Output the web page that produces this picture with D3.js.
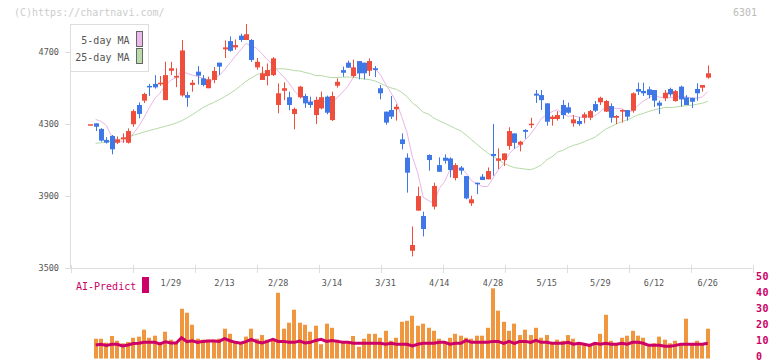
<!DOCTYPE html>
<html>
<head>
<meta charset="utf-8">
<script src="https://cdn.jsdelivr.net/npm/d3@7"></script>
<style>
body { margin: 0; background: #fff; }
text { font-family: "DejaVu Sans Mono", "Liberation Mono", monospace; }
</style>
</head>
<body>
<div id="chart"></div>
<script>
// trading days shown (2025)
var dates = ["1/7","1/8","1/9","1/10","1/14","1/15","1/16","1/17","1/20","1/21","1/22","1/23","1/24","1/27","1/28","1/29","1/30","1/31",
    "2/3","2/4","2/5","2/6","2/7","2/10","2/12","2/13","2/14","2/17","2/18","2/19","2/20","2/21","2/25","2/26","2/27","2/28",
    "3/3","3/4","3/5","3/6","3/7","3/10","3/11","3/12","3/13","3/14","3/17","3/18","3/19","3/21","3/24","3/25","3/26","3/27","3/28","3/31",
    "4/1","4/2","4/3","4/4","4/7","4/8","4/9","4/10","4/11","4/14","4/15","4/16","4/17","4/18","4/21","4/22","4/23","4/24","4/25","4/28","4/30",
    "5/1","5/2","5/7","5/8","5/9","5/12","5/13","5/14","5/15","5/16","5/19","5/20","5/21","5/22","5/23","5/26","5/27","5/28","5/29","5/30",
    "6/2","6/3","6/4","6/5","6/6","6/9","6/10","6/11","6/12","6/13","6/16","6/17","6/18","6/19","6/20","6/23","6/24","6/25","6/26"];

var opens = [4297,4302,4271,4210,4232,4194,4213,4194,4297,4404,4428,4510,4521,4519,4431,4594,4556,4457,4459,4515,
    4589,4552,4497,4543,4639,4713,4759,4724,4789,4765,4765,4613,4543,4565,4570,4404,4483,4447,4354,4447,
    4454,4422,4348,4385,4450,4320,4511,4598,4639,4565,4648,4639,4594,4608,4497,4367,4376,4380,4213,4111,
    3594,3817,3787,4126,3839,4070,4111,4107,3998,4056,4009,3858,3972,4006,3991,4132,4094,4098,4176,4246,
    4183,4265,4298,4467,4459,4413,4326,4326,4404,4391,4302,4315,4333,4333,4409,4419,4367,4398,4333,4367,
    4376,4372,4493,4482,4491,4487,4417,4441,4493,4426,4506,4446,4444,4493,4500,4556];
var highs = [4297,4302,4275,4225,4237,4229,4246,4274,4380,4418,4472,4521,4570,4565,4644,4644,4608,4765,4477,4543,
    4620,4570,4561,4615,4639,4763,4785,4768,4800,4854,4770,4665,4617,4635,4670,4524,4530,4478,4390,4510,
    4466,4450,4450,4478,4456,4478,4552,4617,4650,4656,4648,4639,4663,4620,4515,4367,4454,4408,4246,4135,
    3729,3950,3811,4130,3972,4113,4130,4113,4080,4065,4009,3900,3972,4020,4057,4298,4163,4135,4280,4246,
    4205,4270,4333,4487,4487,4413,4348,4369,4432,4417,4348,4337,4363,4376,4426,4450,4432,4413,4348,4380,
    4376,4474,4528,4528,4506,4487,4428,4487,4500,4487,4511,4459,4444,4524,4515,4624];
var lows = [4297,4259,4200,4190,4130,4187,4194,4190,4283,4330,4415,4454,4495,4510,4431,4570,4503,4450,4394,4478,
    4518,4507,4497,4525,4570,4665,4700,4711,4755,4765,4643,4600,4543,4513,4565,4358,4431,4374,4269,4440,
    4388,4388,4298,4380,4352,4315,4500,4561,4611,4556,4546,4546,4565,4559,4435,4294,4326,4317,4157,3917,
    3563,3817,3674,4039,3824,4033,4078,4002,3985,4017,3880,3843,3909,3987,3991,4011,4048,4065,4155,4161,
    4146,4217,4276,4415,4376,4289,4289,4317,4326,4355,4283,4289,4302,4320,4365,4404,4365,4306,4298,4306,
    4317,4361,4459,4454,4441,4393,4354,4426,4450,4422,4395,4404,4387,4428,4478,4550];
var closes = [4297,4283,4206,4195,4158,4213,4224,4259,4370,4354,4465,4502,4502,4528,4570,4608,4565,4707,4444,4528,
    4567,4515,4547,4593,4617,4724,4705,4737,4765,4797,4654,4644,4580,4598,4663,4469,4497,4404,4382,4506,
    4413,4404,4432,4447,4361,4454,4533,4583,4611,4613,4580,4580,4648,4598,4469,4306,4339,4394,4187,4028,
    3626,3898,3715,4098,3954,4033,4094,4043,4070,4039,3885,3880,3965,3987,4037,4120,4107,4135,4259,4194,
    4200,4255,4300,4456,4431,4311,4339,4348,4348,4361,4324,4298,4352,4370,4372,4444,4426,4333,4343,4376,
    4339,4469,4478,4469,4459,4428,4400,4472,4463,4481,4435,4404,4422,4469,4515,4580];

var ma5 = [null,4324,4313,4290,4228,4211,4199,4210,4245,4284,4334,4390,4439,4470,4513,4542,4555,4596,4579,4570,
    4562,4552,4520,4550,4568,4599,4637,4675,4710,4746,4732,4719,4688,4655,4628,4591,4561,4526,4483,4452,
    4440,4422,4427,4440,4411,4420,4445,4476,4508,4559,4584,4593,4606,4604,4575,4520,4472,4421,4339,4251,
    4115,4027,3891,3873,3858,3940,3979,4044,4039,4056,4026,3983,3968,3951,3951,3998,4043,4077,4132,4163,
    4179,4209,4242,4281,4328,4351,4367,4377,4355,4341,4344,4336,4337,4341,4343,4367,4393,4389,4384,4384,
    4363,4372,4401,4426,4443,4461,4447,4446,4444,4449,4450,4451,4441,4442,4449,4478];
var ma25 = [null,4191,4194,4198,4203,4210,4218,4226,4236,4244,4254,4262,4270,4278,4286,4294,4304,4316,4332,4350,
    4370,4390,4405,4418,4433,4450,4467,4488,4511,4536,4554,4571,4584,4593,4605,4605,4605,4601,4595,4593,
    4585,4578,4567,4568,4561,4556,4557,4559,4559,4559,4553,4548,4545,4538,4525,4511,4499,4491,4475,4450,
    4416,4392,4364,4353,4331,4316,4303,4288,4273,4260,4237,4211,4186,4161,4138,4120,4101,4080,4067,4056,
    4052,4048,4044,4055,4071,4099,4116,4142,4152,4168,4180,4188,4200,4212,4225,4248,4270,4284,4299,4312,
    4321,4335,4349,4357,4368,4377,4383,4390,4390,4392,4397,4400,4403,4408,4414,4424];

var volume = [null,12.5,12.5,10.0,14.2,11.2,9.6,10.4,13.1,13.8,18.2,13.1,14.4,8.7,16.9,11.9,10.0,31.4,28.9,21.3,
    12.5,11.9,11.9,11.9,12.5,18.8,15.6,10.6,9.4,13.8,18.8,12.5,14.8,11.9,11.9,41.5,18.8,22.6,30.8,22.6,
    21.3,16.9,20.7,9.0,22.0,19.4,11.9,10.0,10.0,14.2,7.4,12.5,15.6,15.6,13.1,17.5,11.2,13.1,23.2,23.8,
    27.0,20.7,22.0,19.4,17.5,12.5,10.0,13.1,15.6,14.4,13.1,12.5,14.4,14.4,19.4,44.3,30.2,23.2,17.5,22.0,
    14.8,18.2,14.8,19.4,13.1,14.8,10.0,11.9,11.2,14.8,12.5,9.4,8.7,8.2,10.4,15.6,27.6,11.2,9.4,13.1,
    14.4,17.5,14.4,13.1,7.7,9.6,13.8,11.9,9.6,11.2,9.0,25.1,9.4,11.2,9.0,18.8];
var aiPredict = [null,8.5,9.0,8.3,9.0,9.0,7.9,8.5,9.4,9.6,10.2,10.2,10.2,9.2,10.6,9.8,9.8,13.1,10.6,11.2,
    10.2,10.8,11.0,11.0,10.8,12.5,11.2,10.2,9.6,10.6,12.1,10.6,9.8,10.8,12.1,10.8,10.8,10.2,10.2,11.0,
    9.8,10.2,11.4,12.1,10.8,11.4,10.8,10.2,10.2,9.6,9.6,9.6,9.6,9.6,9.6,9.0,9.6,9.0,9.0,9.0,
    7.9,9.0,9.6,9.6,9.6,10.2,10.2,9.0,9.6,9.6,11.4,10.2,10.2,10.2,10.2,10.8,10.8,9.6,10.8,9.6,
    10.8,10.8,10.2,11.4,10.2,10.2,9.6,9.6,9.6,10.2,9.0,9.6,9.0,8.3,9.6,9.0,9.6,9.0,9.0,9.6,
    9.0,10.2,10.2,9.6,8.3,8.3,8.3,7.7,7.7,8.3,9.0,9.0,9.0,9.0,9.0,9.6];

var tickLabels = ["1/29","2/13","2/28","3/14","3/31","4/14","4/28","5/15","5/29","6/12","6/26"];
var priceTicks = [3500, 3900, 4300, 4700];
var volTicks = [0, 10, 20, 30, 40, 50];

var width = 772, height = 361;
var upColor = "#f04e3c", downColor = "#3f78e6";
var gridColor = "#dddddd";

var svg = d3.select("#chart").append("svg")
    .attr("width", width)
    .attr("height", height);

var idx = d3.range(dates.length);

var x = d3.scalePoint().domain(dates).range([90.3, 707.7]);
var y = d3.scaleLinear().domain([3500, 4700]).range([267.7, 51.7]);
var yVol = d3.scaleLinear().domain([0, 50]).range([358.5, 279.3]);

// header texts
svg.append("text")
    .attr("x", 14).attr("y", 16)
    .attr("font-size", 10).attr("fill", "#cccccc")
    .text("(C)https://chartnavi.com/");

svg.append("text")
    .attr("x", 757).attr("y", 16)
    .attr("text-anchor", "end")
    .attr("font-size", 10).attr("fill", "#bbbbbb")
    .text("6301");

// axes lines
svg.append("line")
    .attr("x1", 70.5).attr("x2", 70.5)
    .attr("y1", 24.5).attr("y2", 268.5)
    .attr("stroke", gridColor);

svg.append("line")
    .attr("x1", 70).attr("x2", 752.5)
    .attr("y1", 268.5).attr("y2", 268.5)
    .attr("stroke", gridColor);

// x grid ticks, every 62px
svg.selectAll(".xtick")
    .data(d3.range(0, 12))
    .enter().append("line")
    .attr("class", "xtick")
    .attr("x1", function (k) { return Math.round(70.5 + k * 62) + 0.5; })
    .attr("x2", function (k) { return Math.round(70.5 + k * 62) + 0.5; })
    .attr("y1", 265).attr("y2", 273)
    .attr("stroke", gridColor);

// y ticks
svg.selectAll(".ytick")
    .data(priceTicks)
    .enter().append("line")
    .attr("class", "ytick")
    .attr("x1", 65).attr("x2", 70.5)
    .attr("y1", function (d) { return Math.round(y(d)) + 0.5; })
    .attr("y2", function (d) { return Math.round(y(d)) + 0.5; })
    .attr("stroke", gridColor);

svg.selectAll(".ylabel")
    .data(priceTicks)
    .enter().append("text")
    .attr("class", "ylabel")
    .attr("x", 59)
    .attr("y", function (d) { return y(d) + 3; })
    .attr("text-anchor", "end")
    .attr("font-size", 8.5)
    .attr("fill", "#555")
    .text(function (d) { return d; });

// date labels
svg.selectAll(".xlabel")
    .data(tickLabels)
    .enter().append("text")
    .attr("class", "xlabel")
    .attr("x", function (d) { return x(d); })
    .attr("y", 285.5)
    .attr("text-anchor", "middle")
    .attr("font-size", 8.5)
    .attr("fill", "#555")
    .text(function (d) { return d; });

// moving averages
var maLine = function (arr) {
    return d3.line()
        .defined(function (i) { return arr[i] != null; })
        .x(function (i) { return x(dates[i]); })
        .y(function (i) { return y(arr[i]); });
};

svg.append("path")
    .attr("d", maLine(ma25)(idx))
    .attr("fill", "none")
    .attr("stroke", "#b6daa6")
    .attr("stroke-width", 1);

svg.append("path")
    .attr("d", maLine(ma5)(idx))
    .attr("fill", "none")
    .attr("stroke", "#e9b6e9")
    .attr("stroke-width", 1);

// candles
var candle = svg.selectAll(".candle")
    .data(idx)
    .enter().append("g")
    .attr("class", "candle");

candle.append("line")
    .attr("x1", function (i) { return Math.round(x(dates[i])) + 0.5; })
    .attr("x2", function (i) { return Math.round(x(dates[i])) + 0.5; })
    .attr("y1", function (i) { return y(highs[i]); })
    .attr("y2", function (i) { return y(lows[i]); })
    .attr("stroke", function (i) { return closes[i] >= opens[i] ? upColor : downColor; })
    .attr("stroke-width", 1);

candle.append("rect")
    .attr("x", function (i) { return Math.round(x(dates[i])) - 2; })
    .attr("width", 5)
    .attr("y", function (i) { return y(Math.max(opens[i], closes[i])); })
    .attr("height", function (i) { return Math.max(1.5, Math.abs(y(opens[i]) - y(closes[i]))); })
    .attr("fill", function (i) { return closes[i] >= opens[i] ? upColor : downColor; });

// legend
var legend = svg.append("g");
legend.append("rect")
    .attr("x", 70.5).attr("y", 24.5)
    .attr("width", 78).attr("height", 47)
    .attr("fill", "#fff")
    .attr("stroke", gridColor);

var legendItems = [
    { label: "5-day MA", color: "#ebb9eb", y: 31.5 },
    { label: "25-day MA", color: "#badcab", y: 48.5 }
];
legend.selectAll(".lt")
    .data(legendItems)
    .enter().append("text")
    .attr("x", 129.5)
    .attr("y", function (d) { return d.y + 12; })
    .attr("text-anchor", "end")
    .attr("font-size", 10)
    .attr("fill", "#555")
    .text(function (d) { return d.label; });
legend.selectAll(".lr")
    .data(legendItems)
    .enter().append("rect")
    .attr("x", 136.5)
    .attr("y", function (d) { return d.y; })
    .attr("width", 6).attr("height", 15)
    .attr("fill", function (d) { return d.color; })
    .attr("stroke", "#666");

// lower panel
svg.append("text")
    .attr("x", 76).attr("y", 290)
    .attr("font-size", 10)
    .attr("fill", "#cc0066")
    .text("AI-Predict");
svg.append("rect")
    .attr("x", 142).attr("y", 277)
    .attr("width", 7).attr("height", 16)
    .attr("fill", "#cc0066");

svg.selectAll(".vlabel")
    .data(volTicks)
    .enter().append("text")
    .attr("class", "vlabel")
    .attr("x", 756)
    .attr("y", function (d) { return yVol(d) + 1; })
    .attr("font-size", 10)
    .attr("font-weight", "bold")
    .attr("letter-spacing", 0.6)
    .attr("fill", "#cc0066")
    .text(function (d) { return d; });

svg.selectAll(".vbar")
    .data(idx.filter(function (i) { return volume[i] != null; }))
    .enter().append("rect")
    .attr("class", "vbar")
    .attr("x", function (i) { return Math.round(x(dates[i])) - 2; })
    .attr("width", 4)
    .attr("y", function (i) { return yVol(volume[i]); })
    .attr("height", function (i) { return yVol(0) - yVol(volume[i]); })
    .attr("fill", "#f0963e");

svg.append("path")
    .attr("d", d3.line()
        .defined(function (i) { return aiPredict[i] != null; })
        .x(function (i) { return x(dates[i]); })
        .y(function (i) { return yVol(aiPredict[i]); })(idx))
    .attr("fill", "none")
    .attr("stroke", "#cc0066")
    .attr("stroke-width", 3);
</script>
</body>
</html>
